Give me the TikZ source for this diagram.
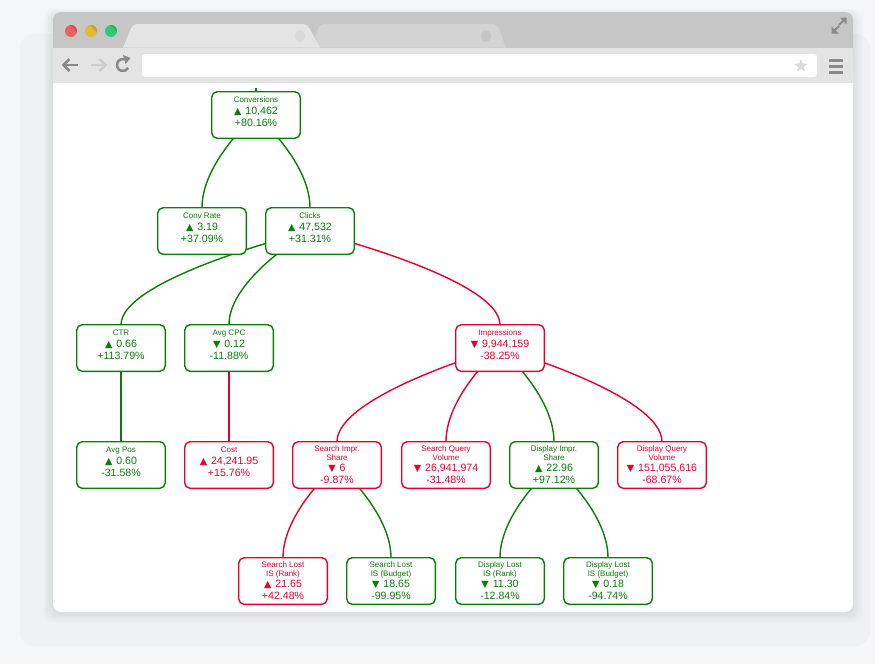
\documentclass[tikz,border=0pt]{standalone}
\usepackage{fontspec}
\setmainfont{Liberation Sans}
\newfontfamily\symf{DejaVu Sans}
\usetikzlibrary{calc,shapes.geometric}
\definecolor{mgreen}{RGB}{10,125,10}
\definecolor{mred}{RGB}{232,0,45}
\definecolor{bgc}{RGB}{245,246,248}
\definecolor{shc}{RGB}{239,241,243}
\definecolor{tabc}{RGB}{198,198,198}
\definecolor{barc}{RGB}{228,228,228}
\definecolor{tabtwo}{RGB}{211,211,211}
\definecolor{iconc}{RGB}{138,138,138}
\definecolor{iconl}{RGB}{205,205,205}
\definecolor{starc}{RGB}{218,218,218}
\definecolor{tlred}{RGB}{232,98,98}
\definecolor{tlredd}{RGB}{208,78,78}
\definecolor{tlyel}{RGB}{226,184,56}
\definecolor{tlyeld}{RGB}{204,160,40}
\definecolor{tlgrn}{RGB}{48,200,122}
\definecolor{tlgrnd}{RGB}{34,176,102}
\pgfdeclarelayer{bg}
\pgfdeclarelayer{edges}
\pgfsetlayers{bg,edges,main}
\tikzset{
  mbox/.style={draw, line width=1.4pt, rounded corners=5.5pt, fill=white,
    minimum width=88.6pt, minimum height=46.6pt, inner sep=0pt, outer sep=0pt},
  ttl/.style={font=\fontsize{8}{9}\selectfont, anchor=base, inner sep=0pt},
  val/.style={font=\fontsize{10.6}{12}\selectfont, anchor=base, inner sep=0pt},
  edge/.style={line width=1.4pt},
  icon/.style={draw=iconc, line width=2.6pt},
}
\newcommand{\arrup}{{\symf\fontsize{9.6}{10}\selectfont ▲}\hspace{1pt}}
\newcommand{\arrdn}{{\symf\fontsize{9.6}{10}\selectfont ▼}\hspace{1pt}}
% one title line
\newcommand{\mbxA}[8]{%
  \node[mbox, draw=#4] (#1) at (#2,#3) {};
  \node[ttl, text=#4] (#1t) at ($(#1.north)+(0,10.5)$) {#5};
  \node[val, text=#4] (#1v) at ($(#1.north)+(0,22.8)$) {#6 #7};
  \node[val, text=#4] (#1p) at ($(#1.north)+(0,34.5)$) {#8};
}
% two title lines
\newcommand{\mbxB}[9]{%
  \node[mbox, draw=#4] (#1) at (#2,#3) {};
  \node[ttl, text=#4] (#1t) at ($(#1.north)+(0,10)$) {#5};
  \node[ttl, text=#4] (#1u) at ($(#1.north)+(0,18.3)$) {#6};
  \node[val, text=#4] (#1v) at ($(#1.north)+(0,30)$) {#7 #8};
  \node[val, text=#4] (#1p) at ($(#1.north)+(0,42)$) {#9};
}
\newcommand{\treelink}[3]{%
  \coordinate (#2#3m) at ($(#2.center)!0.5!(#3.north)$);
  \draw[edge, #1] (#2.center) .. controls (#2.center) and (#2#3m -| #3.north) .. (#3.north);
}
\begin{document}
\begin{tikzpicture}[x=1pt,y=-1pt]
\useasboundingbox (0,0) rectangle (875,664);
\begin{pgfonlayer}{bg}
  \fill[bgc] (0,0) rectangle (875,664);
  \fill[shc, rounded corners=14pt] (20,34) rectangle (870,646);
  \foreach \i in {1,...,10}{
    \fill[black, opacity=0.008, rounded corners=10pt] (53-\i,14-0.5*\i) rectangle (853+\i,613+\i);
  }
  % window
  \fill[tabc, rounded corners=8pt] (53,12) rectangle (853,60);
  \fill[white, rounded corners=8pt] (53,60) rectangle (853,612);
  \fill[barc] (53,47.5) rectangle (853,83);
  % tabs
  \fill[tabtwo] (311,47.5) [rounded corners=4pt]-- (320,24) -- (497,24) [sharp corners]-- (506,47.5) -- cycle;
  \fill[barc] (123,47.5) [rounded corners=4pt]-- (133,24) -- (307,24) [sharp corners]-- (320,47.5) -- cycle;
  \fill[starc] (300,36) ellipse [x radius=5pt, y radius=6pt];
  \fill[tabc!90!black!40!tabtwo] (486,36) ellipse [x radius=5pt, y radius=6pt];
  % traffic lights
  \foreach \cx/\ca/\cb in {71/tlred/tlredd, 91/tlyel/tlyeld, 111/tlgrn/tlgrnd}{
    \fill[\ca] (\cx,31) circle [radius=6pt];
    \begin{scope}
      \clip (\cx,31) circle [radius=6pt];
      \fill[\cb] (\cx-3,23) -- (\cx+9,35) -- (\cx+9,23) -- cycle;
    \end{scope}
  }
  % expand icon
  \fill[iconc] (846.5,17.5) -- (846.5,24.5) -- (839.5,17.5) -- cycle;
  \draw[iconc, line width=2pt] (844.5,19.5) -- (839,25);
  \fill[iconc] (831.5,33.5) -- (831.5,26.5) -- (838.5,33.5) -- cycle;
  \draw[iconc, line width=2pt] (833.5,31.5) -- (839,26);
  % toolbar icons
  \draw[icon] (78,65) -- (63.5,65);
  \draw[icon, line join=miter] (69.5,59) -- (63.5,65) -- (69.5,71);
  \draw[icon, draw=iconl] (91,65) -- (105.5,65);
  \draw[icon, draw=iconl, line join=miter] (99.5,59) -- (105.5,65) -- (99.5,71);
  \draw[icon] (125.05,59.36) arc[start angle=-70, end angle=-330, radius=6];
  \fill[iconc] (123,55) -- (130.5,58) -- (125.5,64) -- cycle;
  \fill[white, rounded corners=3pt] (142,54) rectangle (817,77);
  \foreach \yy in {60,66,72}{
    \fill[iconc] (829,\yy-1.5) rectangle (843,\yy+1.5);
  }
\end{pgfonlayer}
\node[star, star points=5, star point ratio=2.4, fill=starc, inner sep=0pt, minimum size=14pt] (star) at (801,66) {};

% metric boxes
\mbxA{conv}{256}{115}{mgreen}{Conversions}{\arrup}{10,462}{+80.16\%}
\mbxA{convrate}{202}{231}{mgreen}{Conv Rate}{\arrup}{3.19}{+37.09\%}
\mbxA{clicks}{310}{231}{mgreen}{Clicks}{\arrup}{47,532}{+31.31\%}
\mbxA{ctr}{121}{348}{mgreen}{CTR}{\arrup}{0.66}{+113.79\%}
\mbxA{cpc}{229}{348}{mgreen}{Avg CPC}{\arrdn}{0.12}{-11.88\%}
\mbxA{impr}{500}{348}{mred}{Impressions}{\arrdn}{9,944,159}{-38.25\%}
\mbxA{avgpos}{121}{465}{mgreen}{Avg Pos}{\arrup}{0.60}{-31.58\%}
\mbxA{cost}{229}{465}{mred}{Cost}{\arrup}{24,241.95}{+15.76\%}
\mbxB{sis}{337}{465}{mred}{Search Impr.}{Share}{\arrdn}{6}{-9.87\%}
\mbxB{sqv}{446}{465}{mred}{Search Query}{Volume}{\arrdn}{26,941,974}{-31.48\%}
\mbxB{dis}{554}{465}{mgreen}{Display Impr.}{Share}{\arrup}{22.96}{+97.12\%}
\mbxB{dqv}{662}{465}{mred}{Display Query}{Volume}{\arrdn}{151,055,616}{-68.67\%}
\mbxB{slr}{283}{581}{mred}{Search Lost}{IS (Rank)}{\arrup}{21.65}{+42.48\%}
\mbxB{slb}{391}{581}{mgreen}{Search Lost}{IS (Budget)}{\arrdn}{18.65}{-99.95\%}
\mbxB{dlr}{500}{581}{mgreen}{Display Lost}{IS (Rank)}{\arrdn}{11.30}{-12.84\%}
\mbxB{dlb}{608}{581}{mgreen}{Display Lost}{IS (Budget)}{\arrdn}{0.18}{-94.74\%}

\begin{pgfonlayer}{edges}
  \coordinate (stub) at ($(conv.north)+(0,-3.5)$);
  \draw[edge, mgreen] (stub) -- (conv.north);
  \treelink{mgreen}{conv}{convrate}
  \treelink{mgreen}{conv}{clicks}
  \treelink{mgreen}{clicks}{ctr}
  \treelink{mgreen}{clicks}{cpc}
  \treelink{mred}{clicks}{impr}
  \treelink{mgreen}{ctr}{avgpos}
  \treelink{mred}{cpc}{cost}
  \treelink{mred}{impr}{sis}
  \treelink{mred}{impr}{sqv}
  \treelink{mgreen}{impr}{dis}
  \treelink{mred}{impr}{dqv}
  \treelink{mred}{sis}{slr}
  \treelink{mgreen}{sis}{slb}
  \treelink{mgreen}{dis}{dlr}
  \treelink{mgreen}{dis}{dlb}
\end{pgfonlayer}
\end{tikzpicture}
\end{document}
